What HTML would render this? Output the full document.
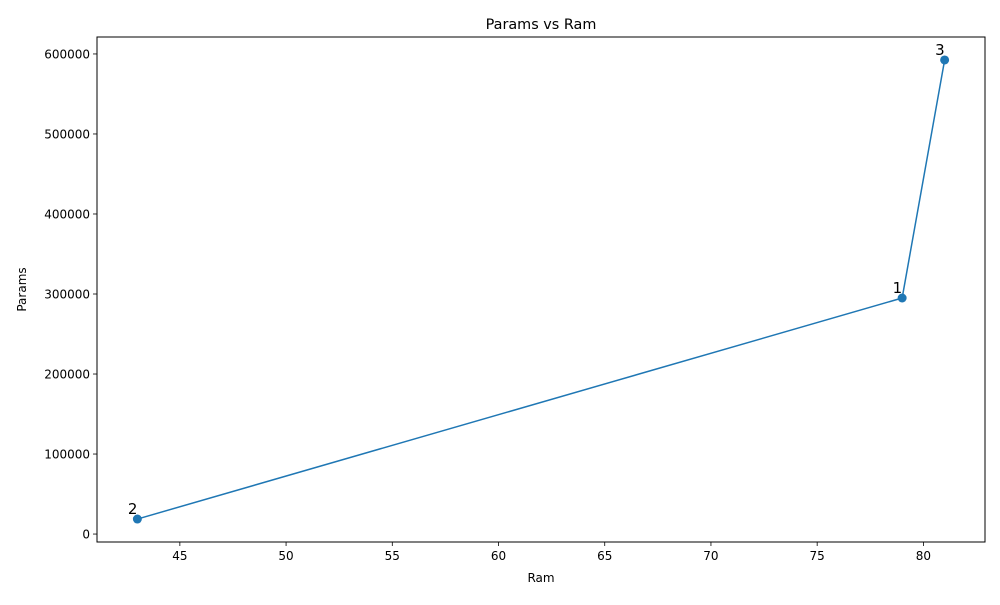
<!DOCTYPE html>
<html><head><meta charset="utf-8"><style>
body{margin:0;background:#fff;font-family:"Liberation Sans","DejaVu Sans",sans-serif}
svg text{font-family:"DejaVu Sans","Liberation Sans",sans-serif}
</style></head><body>
<svg id="chart" width="1000" height="600" xmlns="http://www.w3.org/2000/svg">
<rect width="1000" height="600" fill="#fff"/>
<text x="541" y="29" font-size="14.4" text-anchor="middle">Params vs Ram</text>
<g id="xt"></g><g id="yt"></g>
<polyline id="line" fill="none" stroke="#1f77b4" stroke-width="1.5"/>
<g id="pts"></g>
<rect x="97" y="37" width="888" height="505" fill="none" stroke="#000" stroke-width="1"/>
<text x="541" y="582" font-size="12" text-anchor="middle">Ram</text>
<text x="26" y="289.5" font-size="12" text-anchor="middle" transform="rotate(-90 26 289.5)">Params</text>
</svg>
<script>
const ramValues=[43,79,81];
const paramValues=[18750,295000,592500];
const pointLabels=["2","1","3"];
const xTicks=[45,50,55,60,65,70,75,80];
const yTicks=[0,100000,200000,300000,400000,500000,600000];
const NS="http://www.w3.org/2000/svg";
const L=97,R=985,T=37,B=542;
const xmin=Math.min(...ramValues),xmax=Math.max(...ramValues),xm=(xmax-xmin)*0.05;
const ymin=Math.min(...paramValues),ymax=Math.max(...paramValues),ym=(ymax-ymin)*0.05;
const X=v=>L+(v-(xmin-xm))/((xmax+xm)-(xmin-xm))*(R-L);
const Y=v=>B-(v-(ymin-ym))/((ymax+ym)-(ymin-ym))*(B-T);
function mk(t,a,p){const e=document.createElementNS(NS,t);for(const k in a)e.setAttribute(k,a[k]);p.appendChild(e);return e;}
const xt=document.getElementById('xt'),yt=document.getElementById('yt');
xTicks.forEach(v=>{const x=X(v);
const l=mk('line',{x1:x,x2:x,y1:B,y2:B+4,stroke:'#000','stroke-width':0.8},xt);


const t=mk('text',{x:x,y:B+18,'font-size':12,'text-anchor':'middle'},xt);t.textContent=v;

});
yTicks.forEach(v=>{const y=Y(v);
const l=mk('line',{x1:L-4,x2:L,y1:y,y2:y,stroke:'#000','stroke-width':0.8},yt);


const t=mk('text',{x:L-7,y:y+4.5,'font-size':12,'text-anchor':'end'},yt);t.textContent=v;

});
document.getElementById('line').setAttribute('points',ramValues.map((v,i)=>X(v)+','+Y(paramValues[i])).join(' '));
const pts=document.getElementById('pts');
ramValues.forEach((v,i)=>{const x=X(v),y=Y(paramValues[i]);
const c=mk('circle',{cx:x,cy:y,r:4.5,fill:'#1f77b4'},pts);


const t=mk('text',{x:x,y:y-5,'font-size':15,'text-anchor':'end'},pts);t.textContent=pointLabels[i];

});
</script>
</body></html>
